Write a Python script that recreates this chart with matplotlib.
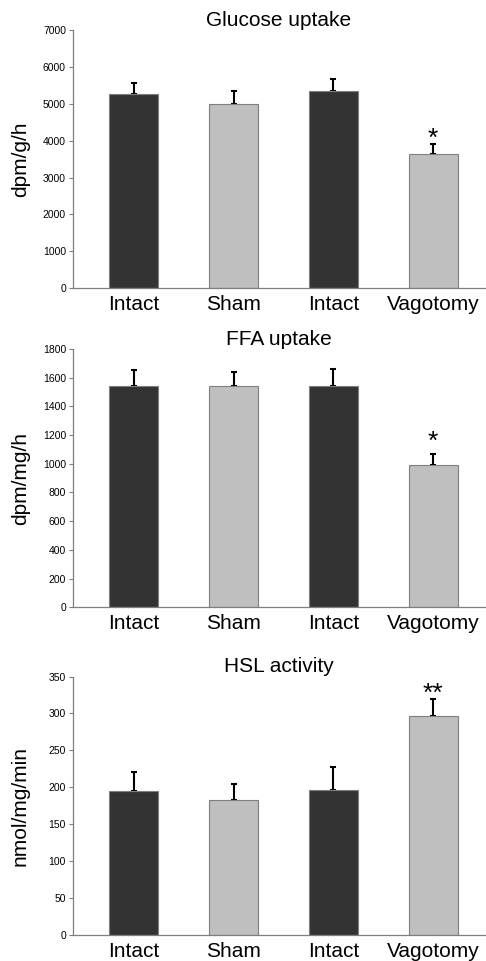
import matplotlib
matplotlib.use('Agg')
import matplotlib.pyplot as plt
import numpy as np

plt.rcParams['font.family'] = ['Liberation Sans', 'DejaVu Sans']

# data
groups = ['Intact', 'Sham', 'Intact', 'Vagotomy']
bar_colors = ['#333333', '#bfbfbf', '#333333', '#bfbfbf']

glucose = [5260, 5000, 5340, 3640]
glucose_err = [300, 330, 340, 270]

ffa = [1542, 1540, 1540, 992]
ffa_err = [110, 97, 120, 76]

hsl = [195, 183, 197, 297]
hsl_err = [26, 21, 31, 22]

panels = [
    ('Glucose uptake', 'dpm/g/h', glucose, glucose_err, 7000, 1000, '*', 4050),
    ('FFA uptake', 'dpm/mg/h', ffa, ffa_err, 1800, 200, '*', 1150),
    ('HSL activity', 'nmol/mg/min', hsl, hsl_err, 350, 50, '**', 327),
]
axes_pos = [
    [0.150, 0.700, 0.848, 0.269],
    [0.150, 0.368, 0.848, 0.269],
    [0.150, 0.027, 0.848, 0.269],
]

fig = plt.figure(figsize=(4.86, 9.61), dpi=100)
x = np.arange(len(groups))

for pos, (title, ylab, vals, errs, ymax, step, star, star_y) in zip(axes_pos, panels):
    ax = fig.add_axes(pos)
    ax.bar(x, vals, width=0.49, color=bar_colors, edgecolor='#7f7f7f', linewidth=0.8, zorder=2)
    ax.errorbar(x, vals, yerr=[np.zeros(len(vals)), errs], fmt='none', ecolor='black',
                elinewidth=1.5, capsize=2, capthick=1.5, zorder=1)
    ax.text(x[-1], star_y, star, ha='center', va='center', fontsize=19)
    ax.set_xlim(-0.61, 3.52)
    ax.set_ylim(0, ymax)
    ax.set_yticks(np.arange(0, ymax + 1, step))
    ax.set_xticks(x)
    ax.set_xticklabels(groups, fontsize=15)
    ax.tick_params(axis='x', length=0, pad=5)
    ax.tick_params(axis='y', labelsize=7.5, length=3, width=0.8, color='#7f7f7f', pad=2)
    ax.set_ylabel(ylab, fontsize=15)
    ax.yaxis.set_label_coords(-0.105, 0.5)
    ax.set_title(title, fontsize=15, pad=3)
    for s in ['top', 'right']:
        ax.spines[s].set_visible(False)
    for s in ['left', 'bottom']:
        ax.spines[s].set_color('#7f7f7f')
        ax.spines[s].set_linewidth(0.9)

fig.savefig('out.png', dpi=100)
